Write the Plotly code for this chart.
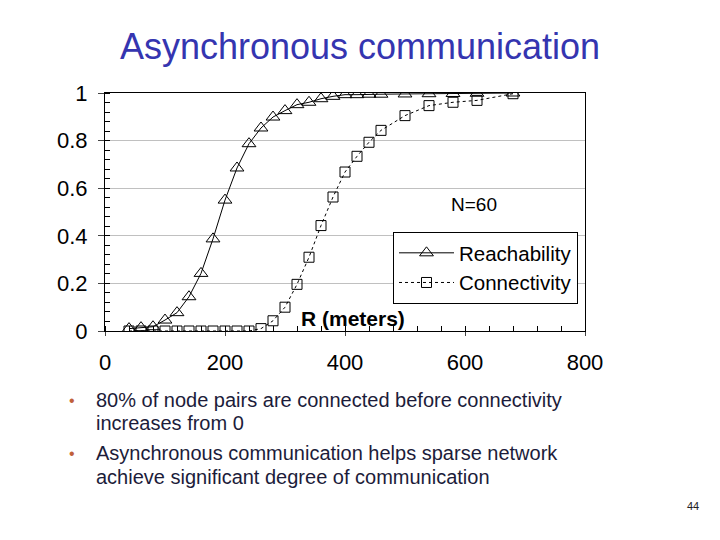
import plotly.graph_objs as go

# ---------------- DATA ----------------
r_reach = [40, 60, 80, 100, 120, 140, 160, 180, 200, 220, 240, 260, 280, 300,
           320, 340, 360, 380, 400, 420, 440, 460, 500, 540, 580, 620, 680]
reach = [0.01, 0.014, 0.018, 0.046, 0.077, 0.144, 0.242, 0.387, 0.55, 0.685,
         0.787, 0.853, 0.899, 0.926, 0.951, 0.961, 0.976, 0.986, 0.993, 0.993,
         0.995, 0.995, 0.996, 0.997, 0.998, 0.999, 1.0]

r_conn = [40, 60, 80, 100, 120, 140, 160, 180, 200, 220, 240, 260, 280, 300,
          320, 340, 360, 380, 400, 420, 440, 460, 500, 540, 580, 620, 680]
conn = [0, 0, 0, 0, 0, 0, 0, 0, 0, 0, 0, 0.01, 0.043, 0.10, 0.196, 0.31,
        0.443, 0.563, 0.668, 0.734, 0.793, 0.843, 0.905, 0.947, 0.961, 0.969,
        0.997]

x_ticks = [0, 200, 400, 600, 800]
y_ticks = [0, 0.2, 0.4, 0.6, 0.8, 1]
y_labels = ["0", "0.2", "0.4", "0.6", "0.8", "1"]

title_text = "Asynchronous communication"
bullets = [
    ["80% of node pairs are connected before connectivity", "increases from 0"],
    ["Asynchronous communication helps sparse network",
     "achieve significant degree of communication"],
]

FONT = "Liberation Sans, Arial, sans-serif"

# page is drawn with the browser's 8px body margin
OFF = 8
W, H = 720 - OFF, 540 - OFF

# plot area in page pixels
L, R, T, B = 105, 585, 93, 331


def fx(px):
    return (px - L) / (R - L)


def fy(py):
    return (B - py) / (B - T)


fig = go.Figure()

fig.add_trace(go.Scatter(
    x=r_reach, y=reach,
    mode='lines+markers',
    name='Reachability',
    line=dict(color='black', width=1),
    marker=dict(symbol='triangle-up-open', size=12, color='black',
                line=dict(width=1))
))

fig.add_trace(go.Scatter(
    x=r_conn, y=conn,
    mode='lines+markers',
    name='Connectivity',
    line=dict(color='black', width=1, dash='dot'),
    marker=dict(symbol='square-open', size=10, color='black',
                line=dict(width=1))
))

annotations = [
    dict(text="N=60", x=fx(474), y=fy(204), showarrow=False,
         xanchor='center', yanchor='middle',
         font=dict(size=19, color='black')),
    dict(text="<b>R (meters)</b>", x=fx(353), y=fy(318), showarrow=False,
         xanchor='center', yanchor='middle',
         font=dict(size=21, color='black')),
    dict(text="44", x=fx(693), y=fy(506), showarrow=False,
         xanchor='center', yanchor='middle',
         font=dict(size=11, color='#222222')),
]

line_y = [[400, 423], [453, 477]]
for lines, ys in zip(bullets, line_y):
    annotations.append(dict(text="•", x=fx(72), y=fy(ys[0]), showarrow=False,
                            xanchor='center', yanchor='middle',
                            font=dict(size=16, color='#c0603a')))
    for t, yy in zip(lines, ys):
        annotations.append(dict(text=t, x=fx(94), y=fy(yy), showarrow=False,
                                xanchor='left', yanchor='middle',
                                font=dict(size=20, color='#1c1c3a')))

for a in annotations:
    a['xref'] = 'paper'
    a['yref'] = 'paper'

fig.update_layout(
    width=W, height=H,
    margin=dict(l=L - OFF, r=W - (R - OFF), t=T - OFF, b=H - (B - OFF)),
    paper_bgcolor='white',
    plot_bgcolor='white',
    font=dict(family=FONT, color='black'),
    title=dict(text=title_text, x=(360 - OFF) / W, xref='container',
               y=1 - (46 - OFF) / H, yref='container',
               xanchor='center', yanchor='middle',
               font=dict(size=36, color='#3535b0')),
    xaxis=dict(
        range=[0, 800], tickvals=x_ticks, ticks='outside', ticklen=4,
        tickfont=dict(size=22), ticklabelstandoff=8,
        showgrid=False, zeroline=False,
        showline=True, linecolor='black', linewidth=1, mirror=True,
        minor=dict(ticks='inside', dtick=40, ticklen=5, tickcolor='black',
                   showgrid=False),
    ),
    yaxis=dict(
        range=[0, 1], tickvals=y_ticks, ticktext=y_labels,
        ticks='outside', ticklen=6,
        tickfont=dict(size=22), ticklabelstandoff=6,
        showgrid=True, gridcolor='#c0c0c0', gridwidth=1, zeroline=False,
        showline=True, linecolor='black', linewidth=1, mirror=True,
        minor=dict(ticks='inside', dtick=0.04, ticklen=5, tickcolor='black',
                   showgrid=False),
    ),
    legend=dict(
        x=fx(393), y=fy(232), xanchor='left', yanchor='top',
        bgcolor='white', bordercolor='black', borderwidth=1,
        font=dict(size=20.5, color='black'),
        tracegroupgap=0, itemwidth=55,
    ),
    annotations=annotations,
)

fig.write_html("out.html")
